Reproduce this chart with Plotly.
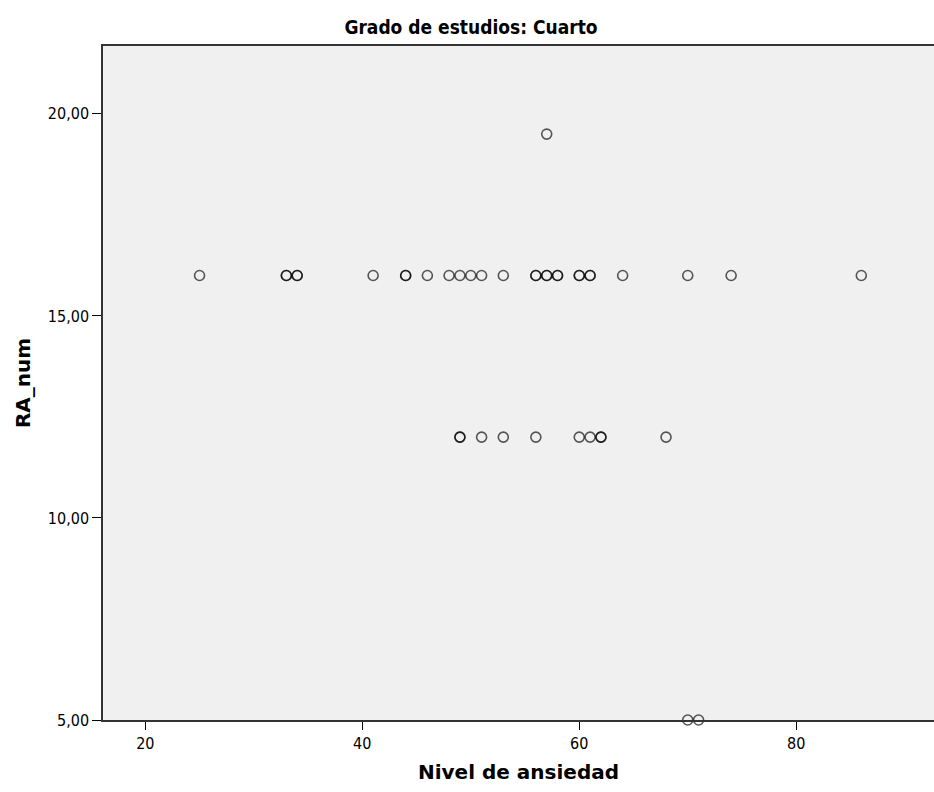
import plotly.graph_objects as go

# Data (duplicates appear as darker circles)
nivel_ansiedad = [25, 33, 33, 34, 34, 41, 44, 44, 46, 48, 49, 50, 51, 53,
                  56, 56, 57, 57, 58, 58, 60, 60, 61, 61, 64, 70, 74, 86,
                  49, 49, 51, 53, 56, 60, 61, 62, 62, 68,
                  57,
                  70, 71]
ra_num = [16] * 28 + [12] * 10 + [19.5] + [5, 5]

x_ticks = [20, 40, 60, 80]
y_ticks = [5, 10, 15, 20]
y_tick_labels = ["5,00", "10,00", "15,00", "20,00"]

font_fam = "Liberation Sans Narrow, DejaVu Sans Condensed, Arial Narrow, sans-serif"
title_fam = "DejaVu Sans, Verdana, sans-serif"

fig = go.Figure()
fig.add_trace(go.Scatter(
    x=nivel_ansiedad, y=ra_num, mode="markers",
    marker=dict(symbol="circle-open", size=10,
                color="rgba(0,0,0,0.65)", line=dict(width=1.6)),
    cliponaxis=False, hoverinfo="x+y", showlegend=False,
))

fig.update_layout(
    width=934, height=792,
    margin=dict(l=103, r=0, t=46, b=72),
    paper_bgcolor="white",
    plot_bgcolor="#F0F0F0",
    font=dict(family=font_fam, color="black", size=16),
    title=dict(text="<b>Grado de estudios: Cuarto</b>", x=471 / 934, xanchor="center",
               y=1 - 27 / 792, yanchor="middle",
               font=dict(family=font_fam, size=19, color="black")),
    xaxis=dict(range=[16.1, 92.7], tickvals=x_ticks, ticks="outside", ticklen=8,
               tickcolor="black", showgrid=False, zeroline=False,
               showline=True, linecolor="#333333", linewidth=1.5, mirror=True,
               tickfont=dict(size=16),
               title=dict(text="<b>Nivel de ansiedad</b>", standoff=13,
                          font=dict(family=title_fam, size=20))),
    yaxis=dict(range=[5, 21.68], tickvals=y_ticks, ticktext=y_tick_labels,
               ticks="outside", ticklen=9, tickcolor="black", showgrid=False,
               zeroline=False, showline=True, linecolor="#333333", linewidth=1.5,
               mirror=False, tickfont=dict(size=16),
               title=dict(text="<b>RA_num</b>", standoff=12,
                          font=dict(family=title_fam, size=20))),
)

fig.write_html(
    "out.html",
    config={"displayModeBar": False},
    post_script="document.body.style.margin='0';"
                "document.documentElement.style.overflow='hidden';"
                "document.body.style.overflow='hidden';",
)
